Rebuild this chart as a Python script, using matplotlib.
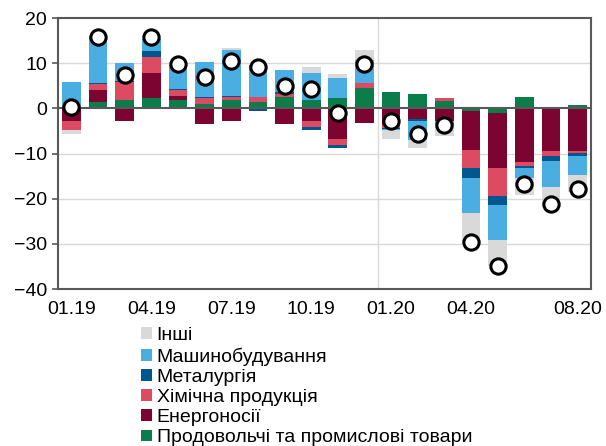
import matplotlib
matplotlib.use("Agg")
import matplotlib.pyplot as plt
from matplotlib.patches import Patch
import numpy as np

plt.rcParams['font.family'] = ['Liberation Sans', 'DejaVu Sans']

months = ['01.19', '02.19', '03.19', '04.19', '05.19', '06.19', '07.19', '08.19',
          '09.19', '10.19', '11.19', '12.19', '01.20', '02.20', '03.20', '04.20',
          '05.20', '06.20', '07.20', '08.20']

# contributions, pp (stack order from zero outwards)
food = [0, 1.4, 1.9, 2.2, 1.85, 0.9, 1.8, 1.4, 2.6, 1.9, 2.35, 4.5, 3.7, 3.2, 1.7,
        -0.6, -1.0, 2.6, -0.1, 0.8]
energy = [-2.9, 2.7, -2.7, 5.55, 0.8, -3.5, -2.9, 0, -3.5, -2.7, -6.85, -3.2, -3.8,
          -2.35, -2.7, -8.6, -12.2, -11.9, -9.4, -9.45]
chem = [-2.0, 1.2, 3.85, 3.55, 1.45, 1.45, 0.6, 1.0, 0.6, -1.35, -1.35, 1.2, -0.6,
        0, 0.6, -3.9, -6.1, -0.85, -0.95, -0.45]
metal = [0, 0.2, 0.2, 1.5, 0.2, 0.2, 0.3, -0.6, 0.5, -0.75, -0.6, 0, -0.15, -0.45,
         -0.2, -2.3, -2.2, -0.5, -1.3, -0.65]
machinery = [5.9, 10.6, 4.0, 2.6, 5.4, 7.75, 10.3, 7.3, 4.8, 5.85, 4.45, 5.0, -0.25,
             -4.2, -0.9, -7.7, -7.6, -2.2, -5.6, -4.15]
other = [-0.8, 0, 0, 0, 0, 0, 0.3, 0, 0, 1.3, 0.8, 2.2, -1.9, -1.85, -2.3, -6.5,
         -5.9, -3.8, -3.9, -3.9]
total = [0.2, 15.9, 7.3, 15.7, 9.8, 6.9, 10.4, 9.1, 4.9, 4.3, -1.1, 9.75, -2.9,
         -5.7, -3.8, -29.6, -35.0, -16.7, -21.2, -17.8]

tick_months = ['01.19', '04.19', '07.19', '10.19', '01.20', '04.20', '08.20']

series = [
    ('Продовольчі та промислові товари', food, '#0b7d4b'),
    ('Енергоносії', energy, '#7b0530'),
    ('Хімічна продукція', chem, '#dd4b63'),
    ('Металургія', metal, '#00578f'),
    ('Машинобудування', machinery, '#4aaee3'),
    ('Інші', other, '#d9d9d9'),
]

fig = plt.figure(figsize=(6.06, 4.46), dpi=100)
ax = fig.add_axes([58 / 606, 1 - 289 / 446, 533 / 606, 271 / 446])

x = np.arange(len(months))
pos = np.zeros(len(months))
neg = np.zeros(len(months))
for name, vals, col in series:
    v = np.array(vals, dtype=float)
    bottom = np.where(v >= 0, pos, neg)
    ax.bar(x, v, width=0.7, bottom=bottom, color=col, zorder=2)
    pos = pos + np.where(v >= 0, v, 0)
    neg = neg + np.where(v < 0, v, 0)

ax.plot(x, total, 'o', ms=11, mfc='white', mec='black', mew=2.2, zorder=4)

ax.axhline(0, color='#595959', lw=1.5, zorder=3)
ax.axvline(11.5, color='#d9d9d9', lw=1, zorder=1)

ax.set_xlim(-0.5, len(months) - 0.5)
ax.set_ylim(-40, 20)
ax.set_yticks([-40, -30, -20, -10, 0, 10, 20])
for yv in [-30, -20, -10, 10]:
    ax.axhline(yv, color='#d9d9d9', lw=1, zorder=1)

ax.set_xticks([months.index(m) for m in tick_months])
ax.set_xticklabels(tick_months)
ax.tick_params(axis='x', length=0, pad=9, labelsize=14, colors='black')
ax.tick_params(axis='y', length=4, width=1.2, color='#595959', pad=4,
               labelsize=14)

for sp in ax.spines.values():
    sp.set_color('#595959')
    sp.set_linewidth(1.5)

handles = [Patch(facecolor=col, label=name) for name, vals, col in series[::-1]]
fig.legend(handles=handles, loc='upper left', bbox_to_anchor=(141 / 606, 1 - 327 / 446),
           frameon=False, fontsize=14, handlelength=0.55, handleheight=0.55,
           handletextpad=0.25, labelspacing=0.165, borderpad=0, borderaxespad=0)

fig.savefig('out.png', dpi=100)
